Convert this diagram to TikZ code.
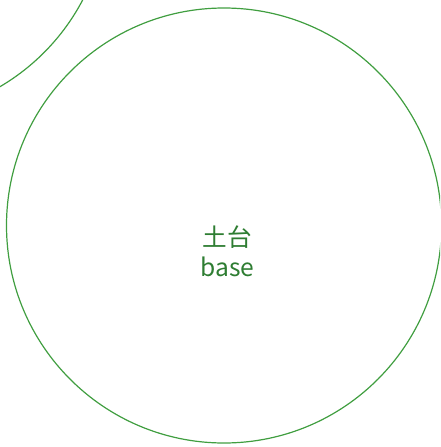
\documentclass[tikz,border=0pt]{standalone}
\usepackage{fontspec}
\newfontfamily\jpfont{Noto Sans CJK JP}
\usetikzlibrary{calc}

\definecolor{ringgreen}{RGB}{64,158,64}
\definecolor{textgreen}{RGB}{46,125,50}

\tikzset{
  ring/.style={circle, draw=ringgreen, line width=1.2pt, minimum size=435pt, inner sep=0pt},
  ringtext/.style={text=textgreen, align=center, font=\jpfont\fontsize{24.6}{30}\selectfont}
}

\begin{document}
\begin{tikzpicture}[x=1pt,y=-1pt]
  \useasboundingbox (0,0) rectangle (440,447);
  \clip (0,0) rectangle (440,447);

  % circles
  \node[ring] (upper) at (-110,-101) {};
  \node[ring] (base) at (224,225.5) {};

  % label
  \node[ringtext] (basetext) at ($(base.center)+(3.5,26)$) {土台\\base};
\end{tikzpicture}
\end{document}
